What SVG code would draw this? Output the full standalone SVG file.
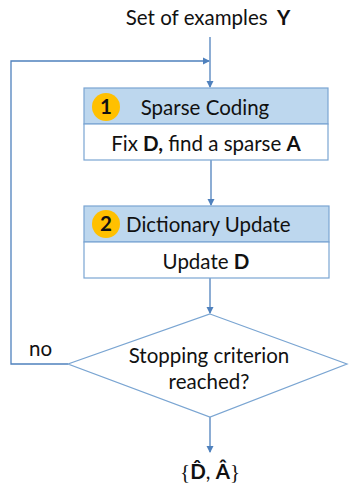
<svg xmlns="http://www.w3.org/2000/svg" width="351" height="486" viewBox="0 0 351 486">
<style>
.t{font-family:Lato,"Liberation Sans",sans-serif;font-size:20.5px;fill:#111}
.b{font-weight:bold}
.hdr{fill:#bdd7ee;stroke:#7aa5d2;stroke-width:1.2}
.body{fill:#fff;stroke:#7aa5d2;stroke-width:1.2}
.c{fill:none;stroke:#4f81bd;stroke-width:1.3}
.num{fill:#ffc000}
</style>
<defs>
<marker id="ah" markerWidth="8" markerHeight="8" refX="6" refY="4" orient="auto" markerUnits="userSpaceOnUse">
<path d="M0,0.5 L7,4 L0,7.5 Z" fill="#4f81bd"/>
</marker>
</defs>
<rect width="351" height="486" fill="#fff"/>
<text id="input" class="t" x="208" y="25" text-anchor="middle">Set of examples <tspan class="b" dx="4">Y</tspan></text>
<g id="connectors">
<path class="c" d="M210,37 V87" marker-end="url(#ah)"/>
<path class="c" d="M68,364 H11 V61 H209" marker-end="url(#ah)"/>
<path class="c" d="M211,160 V205" marker-end="url(#ah)"/>
<path class="c" d="M210,278 V313" marker-end="url(#ah)"/>
<path class="c" d="M210,417 V452" marker-end="url(#ah)"/>
</g>
<g id="sparse-coding">
<rect class="hdr" x="84" y="88" width="244" height="36"/>
<rect class="body" x="84" y="124" width="244" height="36"/>
<circle class="num" cx="106" cy="107" r="14"/>
<text class="t" x="106" y="114" text-anchor="middle" font-weight="bold">1</text>
<text class="t" x="205" y="114.5" text-anchor="middle">Sparse Coding</text>
<text class="t" x="206" y="150.5" text-anchor="middle">Fix <tspan class="b">D,</tspan> find a sparse <tspan class="b">A</tspan></text>
</g>
<g id="dictionary-update">
<rect class="hdr" x="84" y="206" width="245" height="36"/>
<rect class="body" x="84" y="242" width="245" height="36"/>
<circle class="num" cx="106" cy="224" r="14"/>
<text class="t" x="106" y="231" text-anchor="middle" font-weight="bold">2</text>
<text class="t" x="126" y="231.5">Dictionary Update</text>
<text class="t" x="206" y="268.5" text-anchor="middle">Update <tspan class="b">D</tspan></text>
</g>
<g id="stopping">
<polygon points="210,314 347,364 210,417 68,364" fill="#fff" stroke="#7aa5d2" stroke-width="1.2"/>
<text class="t" x="209" y="363" text-anchor="middle">Stopping criterion</text>
<text class="t" x="209" y="389" text-anchor="middle">reached?</text>
</g>
<text id="no" class="t" x="29" y="356">no</text>
<text id="output" class="t" x="210" y="479" text-anchor="middle"><tspan font-family="'Liberation Serif',serif" font-size="21">{</tspan><tspan class="b">D̂</tspan>, <tspan class="b">Â</tspan><tspan font-family="'Liberation Serif',serif" font-size="21">}</tspan></text>
</svg>
